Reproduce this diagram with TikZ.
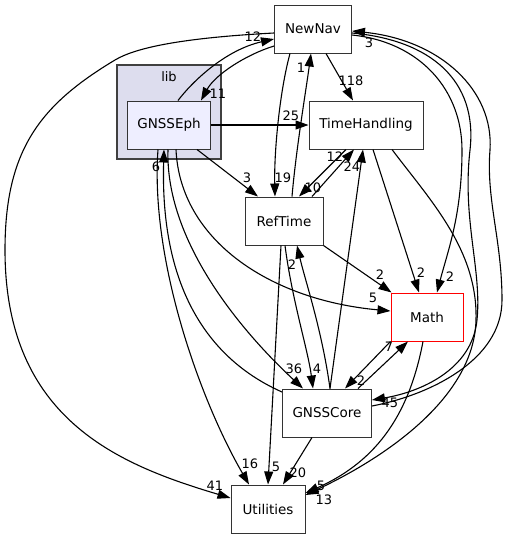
\documentclass[tikz,border=0pt]{standalone}
\usepackage{fontspec}
\setmainfont{DejaVu Sans}
\usetikzlibrary{arrows.meta}
\definecolor{clusterbg}{HTML}{DDDDEE}
\definecolor{ephbg}{HTML}{EEEEFF}
\begin{document}
\begin{tikzpicture}[x=1pt,y=-1pt,>={Triangle[length=13pt,width=9pt]},
  dir/.style={draw=black!80,line width=1pt,minimum height=48pt,inner sep=0pt,font=\fontsize{13.5}{15}\selectfont},
  dep/.style={->,line width=1.1pt},
  lbl/.style={inner sep=0pt,font=\fontsize{13}{15}\selectfont}]

\useasboundingbox (0,0) rectangle (508,539);

% lib cluster
\node[draw=black!75,fill=clusterbg,line width=1.3pt,minimum width=104pt,minimum height=94pt] (lib) at (169,112) {};
\node[lbl] (libname) at (169,77) {lib};

\node[dir,fill=ephbg,minimum width=83pt] (GNSSEph) at (169,125) {GNSSEph};
\node[dir,minimum width=77pt] (NewNav) at (313,29) {NewNav};
\node[dir,minimum width=114pt] (TimeHandling) at (366,125) {TimeHandling};
\node[dir,minimum width=78pt] (RefTime) at (284,221) {RefTime};
\node[dir,draw=red,minimum width=72pt] (Math) at (427,317) {Math};
\node[dir,minimum width=89pt] (GNSSCore) at (327,413) {GNSSCore};
\node[dir,minimum width=74pt] (Utilities) at (268,509) {Utilities};

% GNSSEph
\draw[dep]([xshift=9pt]GNSSEph.north) .. controls (192,82) and (225,50) .. ([yshift=-10pt]NewNav.west);
\draw[dep]([yshift=-17pt]NewNav.west) .. controls (245,55) and (215,75) .. ([xshift=32pt]GNSSEph.north);
\draw[dep](GNSSEph)--(TimeHandling);
\draw[dep]([xshift=28pt]GNSSEph.south)--([xshift=-26pt]RefTime.north);
\draw[dep]([xshift=7pt]GNSSEph.south) .. controls (180,240) and (270,300) .. ([yshift=6pt]Math.west);
\draw[dep]([xshift=-1pt]GNSSEph.south) .. controls (165,240) and (240,330) .. ([xshift=-24pt]GNSSCore.north);
\draw[dep]([xshift=-11pt]GNSSEph.south) .. controls (150,260) and (200,400) .. ([xshift=-19pt]Utilities.north);
\draw[dep]([yshift=21pt]GNSSCore.west) .. controls (210,360) and (160,290) .. ([xshift=-5pt]GNSSEph.south);

% NewNav
\draw[dep]([yshift=-4pt]NewNav.west) .. controls (180,38) and (135,48) .. (115,60)
  .. controls (40,105) and (5,150) .. (5,250) .. controls (5,420) and (120,465) .. ([yshift=11pt]Utilities.west);
\draw[dep]([xshift=13pt]NewNav.south)--([xshift=-13pt]TimeHandling.north);
\draw[dep]([xshift=-23pt]NewNav.south) .. controls (280,90) and (274,150) .. ([xshift=-9pt]RefTime.north);
\draw[dep]([yshift=-6pt]NewNav.east) .. controls (420,42) and (462,90) .. (462,150)
  .. controls (462,215) and (448,250) .. ([xshift=10pt]Math.north);
\draw[dep]([yshift=-4pt]NewNav.east) .. controls (430,40) and (478,80) .. (470,150)
  .. controls (462,220) and (482,270) .. (477,320) .. controls (472,370) and (420,392) .. ([yshift=13pt]GNSSCore.east);

% RefTime and TimeHandling
\draw[dep]([xshift=8pt]RefTime.north) .. controls (296,150) and (306,90) .. ([xshift=-2pt]NewNav.south);
\draw[dep]([xshift=28pt]RefTime.north)--([xshift=-12pt]TimeHandling.south);
\draw[dep]([xshift=-20pt]TimeHandling.south)--([xshift=15pt]RefTime.north);
\draw[dep]([xshift=7pt]TimeHandling.south)--([xshift=-8pt]Math.north);
\draw[dep]([xshift=26pt]TimeHandling.south) .. controls (430,200) and (478,250) .. (476,320)
  .. controls (474,400) and (380,460) .. ([yshift=14pt]Utilities.east);
\draw[dep](RefTime.south east)--([xshift=1pt]Math.north west);
\draw[dep]([xshift=1pt]RefTime.south) .. controls (292,300) and (308,350) .. ([xshift=-14pt]GNSSCore.north);
\draw[dep]([xshift=-3pt]RefTime.south)--(Utilities.north);

% GNSSCore and Math
\draw[dep]([xshift=3pt]GNSSCore.north)--([xshift=-3pt]TimeHandling.south);
\draw[dep]([xshift=3pt]GNSSCore.north) .. controls (322,330) and (305,280) .. ([xshift=13pt]RefTime.south);
\draw[dep](Math.south west)--([xshift=18pt]GNSSCore.north);
\draw[dep]([xshift=31pt]GNSSCore.north)--([xshift=-19pt]Math.south);
\draw[dep]([yshift=7pt]GNSSCore.east) .. controls (430,395) and (502,360) .. (502,300)
  .. controls (502,240) and (486,200) .. (490,150) .. controls (494,90) and (440,40) .. ([yshift=-2pt]NewNav.east);
\draw[dep]([xshift=-4pt]Math.south) .. controls (410,410) and (380,460) .. ([yshift=16pt]Utilities.east);
\draw[dep]([xshift=-15pt]GNSSCore.south)--([xshift=15pt]Utilities.north);

% edge labels
\node[lbl] (n1) at (253,37) {12};
\node[lbl] (n2) at (218,94) {11};
\node[lbl] (n3) at (215,486) {41};
\node[lbl] (n4) at (291,116) {25};
\node[lbl] (n5) at (247,178) {3};
\node[lbl] (n6) at (373,298) {5};
\node[lbl] (n7) at (294,369) {36};
\node[lbl] (n8) at (250,464) {16};
\node[lbl] (n9) at (156,167) {6};
\node[lbl] (n10) at (351,81) {118};
\node[lbl] (n11) at (283,178) {19};
\node[lbl] (n12) at (301,68) {1};
\node[lbl] (n13) at (335,157) {12};
\node[lbl] (n14) at (313,188) {10};
\node[lbl] (n15) at (352,167) {24};
\node[lbl] (n16) at (421,273) {2};
\node[lbl] (n17) at (380,275) {2};
\node[lbl] (n18) at (317,369) {4};
\node[lbl] (n19) at (292,265) {2};
\node[lbl] (n20) at (276,467) {5};
\node[lbl] (n21) at (361,381) {2};
\node[lbl] (n22) at (389,347) {7};
\node[lbl] (n23) at (450,277) {2};
\node[lbl] (n24) at (390,403) {45};
\node[lbl] (n25) at (369,43) {3};
\node[lbl] (n26) at (321,486) {5};
\node[lbl] (n27) at (324,500) {13};
\node[lbl] (n28) at (298,473) {20};

\end{tikzpicture}
\end{document}
